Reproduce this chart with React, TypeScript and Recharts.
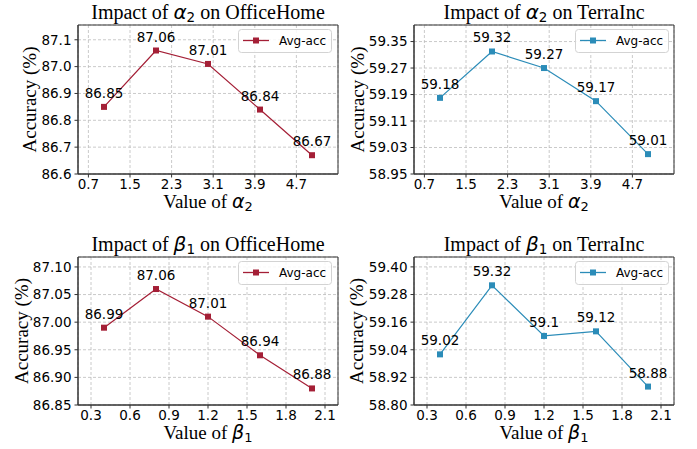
import React from "react";
import {
  LineChart,
  Line,
  XAxis,
  YAxis,
  CartesianGrid,
  ReferenceArea,
  LabelList,
  Legend,
} from "recharts";

// x values
const alphaValues = [1, 2, 3, 4, 5];
const betaValues = [0.4, 0.8, 1.2, 1.6, 2.0];

// Avg-acc per setting
const officeAlpha = [86.85, 87.06, 87.01, 86.84, 86.67];
const terraAlpha = [59.18, 59.32, 59.27, 59.17, 59.01];
const officeBeta = [86.99, 87.06, 87.01, 86.94, 86.88];
const terraBeta = [59.02, 59.32, 59.1, 59.12, 58.88];

// tick labels
const alphaTicks = [0.7, 1.5, 2.3, 3.1, 3.9, 4.7];
const betaTicks = [0.3, 0.6, 0.9, 1.2, 1.5, 1.8, 2.1];
const officeAlphaTicks = [86.6, 86.7, 86.8, 86.9, 87.0, 87.1];
const terraAlphaTicks = [58.95, 59.03, 59.11, 59.19, 59.27, 59.35];
const officeBetaTicks = [86.85, 86.9, 86.95, 87.0, 87.05, 87.1];
const terraBetaTicks = [58.8, 58.92, 59.04, 59.16, 59.28, 59.4];

const RED = "#a41f36";
const BLUE = "#2b8cb8";
const SANS = "DejaVu Sans, sans-serif";
const SERIF = "Liberation Serif, Times New Roman, serif";

const toRows = (xs: number[], ys: number[]) => xs.map((x, i) => ({ x, y: ys[i] }));

type PanelProps = {
  left: number;
  top: number;
  width: number;
  height: number;
  marginTop: number;
  marginRight: number;
  yWidth: number;
  xHeight: number;
  xs: number[];
  ys: number[];
  xDomain: [number, number];
  xTicks: number[];
  yDomain: [number, number];
  yTicks: number[];
  yDigits: number;
  color: string;
  legendLeft: number;
  legendTop: number;
};

const Panel = (p: PanelProps) => {
  const data = toRows(p.xs, p.ys);
  const tick = { fill: "#000", fontSize: 13.5, fontFamily: SANS };

  const square = (props: any) => {
    const { cx, cy, index } = props;
    return <rect key={index} x={cx - 3} y={cy - 3} width={6} height={6} fill={p.color} />;
  };

  const valueLabel = (props: any) => {
    const { x, y, value, index } = props;
    return (
      <text key={index} x={x} y={y - 9} textAnchor="middle" fontSize={13.5} fontFamily={SANS} fill="#000">
        {String(value)}
      </text>
    );
  };

  const legendBox = () => (
    <svg width={94} height={24}>
      <rect x={0.5} y={0.5} width={93} height={23} rx={3} fill="rgba(255,255,255,0.85)" stroke="#d3d3d3" />
      <line x1={5} x2={31} y1={11.5} y2={11.5} stroke={p.color} strokeWidth={1.3} />
      <rect x={15} y={8.5} width={6} height={6} fill={p.color} />
      <text x={41} y={16} fontSize={12} fontFamily={SANS} fill="#000">
        Avg-acc
      </text>
    </svg>
  );

  return (
    <div style={{ position: "absolute", left: p.left, top: p.top }}>
      <LineChart
        width={p.width}
        height={p.height}
        data={data}
        margin={{ top: p.marginTop, right: p.marginRight, left: 0, bottom: 0 }}
      >
        <CartesianGrid stroke="#bdbdbd" strokeDasharray="3 2" strokeWidth={0.8} />
        <XAxis
          type="number"
          dataKey="x"
          domain={p.xDomain}
          ticks={p.xTicks}
          allowDataOverflow
          height={p.xHeight}
          tick={tick}
          tickSize={3.5}
          tickMargin={2}
          tickLine={{ stroke: "#333" }}
          axisLine={{ stroke: "#333" }}
          tickFormatter={(v: number) => v.toFixed(1)}
        />
        <YAxis
          type="number"
          domain={p.yDomain}
          ticks={p.yTicks}
          allowDataOverflow
          width={p.yWidth}
          tick={tick}
          tickSize={3.5}
          tickMargin={3}
          tickLine={{ stroke: "#333" }}
          axisLine={{ stroke: "#333" }}
          tickFormatter={(v: number) => v.toFixed(p.yDigits)}
        />
        <ReferenceArea
          x1={p.xDomain[0]}
          x2={p.xDomain[1]}
          y1={p.yDomain[0]}
          y2={p.yDomain[1]}
          fill="none"
          stroke="#333"
          strokeWidth={1}
          ifOverflow="visible"
        />
        <Legend
          layout="horizontal"
          verticalAlign="middle"
          align="center"
          content={legendBox}
          wrapperStyle={{ position: "absolute", left: p.legendLeft, top: p.legendTop, width: 94, height: 24 }}
        />
        <Line
          type="linear"
          dataKey="y"
          stroke={p.color}
          strokeWidth={1.2}
          dot={square}
          activeDot={false}
          isAnimationActive={false}
        >
          <LabelList dataKey="y" content={valueLabel} />
        </Line>
      </LineChart>
    </div>
  );
};

const Title = ({ x, y, sym, name }: { x: number; y: number; sym: string; name: string }) => (
  <text x={x} y={y} textAnchor="middle" fontFamily={SERIF} fontSize={20} fill="#000">
    Impact of{" "}
    <tspan fontFamily={SANS} fontStyle="italic">
      {sym[0]}
    </tspan>
    <tspan fontFamily={SANS} fontSize={13.5} dy={3}>
      {sym[1]}
    </tspan>
    <tspan dy={-3}> on {name}</tspan>
  </text>
);

const XLabel = ({ x, y, sym }: { x: number; y: number; sym: string }) => (
  <text x={x} y={y} textAnchor="middle" fontFamily={SERIF} fontSize={19} fill="#000">
    Value of{" "}
    <tspan fontFamily={SANS} fontStyle="italic">
      {sym[0]}
    </tspan>
    <tspan fontFamily={SANS} fontSize={13} dy={3}>
      {sym[1]}
    </tspan>
  </text>
);

const YLabel = ({ x, y }: { x: number; y: number }) => (
  <text
    transform={`translate(${x},${y}) rotate(-90)`}
    textAnchor="middle"
    fontFamily={SERIF}
    fontSize={19}
    fill="#000"
  >
    Accuracy (%)
  </text>
);

export default function App() {
  return (
    <div style={{ position: "absolute", left: 0, top: 0, width: 697, height: 449, background: "#fff" }}>
      <Panel
        left={0}
        top={0}
        width={348}
        height={225}
        marginTop={25}
        marginRight={10}
        yWidth={78}
        xHeight={51}
        xs={alphaValues}
        ys={officeAlpha}
        xDomain={[0.5, 5.5]}
        xTicks={alphaTicks}
        yDomain={[86.6, 87.155]}
        yTicks={officeAlphaTicks}
        yDigits={1}
        color={RED}
        legendLeft={238}
        legendTop={29}
      />
      <Panel
        left={347}
        top={0}
        width={350}
        height={225}
        marginTop={25}
        marginRight={23}
        yWidth={67}
        xHeight={51}
        xs={alphaValues}
        ys={terraAlpha}
        xDomain={[0.5, 5.5]}
        xTicks={alphaTicks}
        yDomain={[58.95, 59.4]}
        yTicks={terraAlphaTicks}
        yDigits={2}
        color={BLUE}
        legendLeft={228}
        legendTop={29}
      />
      <Panel
        left={0}
        top={225}
        width={348}
        height={224}
        marginTop={32}
        marginRight={10}
        yWidth={78}
        xHeight={44}
        xs={betaValues}
        ys={officeBeta}
        xDomain={[0.2, 2.2]}
        xTicks={betaTicks}
        yDomain={[86.85, 87.118]}
        yTicks={officeBetaTicks}
        yDigits={2}
        color={RED}
        legendLeft={238}
        legendTop={36}
      />
      <Panel
        left={347}
        top={225}
        width={350}
        height={224}
        marginTop={32}
        marginRight={23}
        yWidth={67}
        xHeight={44}
        xs={betaValues}
        ys={terraBeta}
        xDomain={[0.2, 2.2]}
        xTicks={betaTicks}
        yDomain={[58.8, 59.443]}
        yTicks={terraBetaTicks}
        yDigits={2}
        color={BLUE}
        legendLeft={228}
        legendTop={36}
      />
      <svg
        width={697}
        height={449}
        style={{ position: "absolute", left: 0, top: 0, pointerEvents: "none" }}
      >
        <Title x={208} y={19} sym="α2" name="OfficeHome" />
        <Title x={544} y={19} sym="α2" name="TerraInc" />
        <Title x={208} y={251} sym="β1" name="OfficeHome" />
        <Title x={544} y={251} sym="β1" name="TerraInc" />
        <XLabel x={208} y={208} sym="α2" />
        <XLabel x={544} y={208} sym="α2" />
        <XLabel x={208} y={439} sym="β1" />
        <XLabel x={544} y={439} sym="β1" />
        <YLabel x={36} y={99.5} />
        <YLabel x={364} y={99.5} />
        <YLabel x={28} y={331} />
        <YLabel x={363} y={331} />
      </svg>
    </div>
  );
}
